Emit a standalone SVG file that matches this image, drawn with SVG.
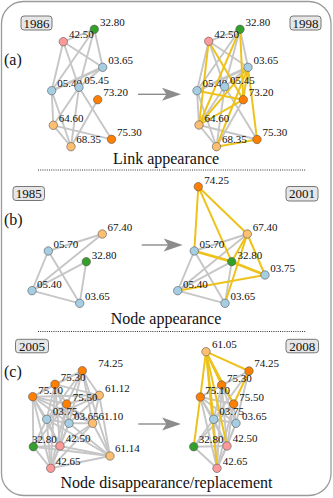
<svg xmlns="http://www.w3.org/2000/svg" width="333" height="498" viewBox="0 0 333 498">
<style>
.frame{fill:#fff;stroke:#9a9a9a;stroke-width:1.3}
.e line{stroke:#c6c6c6;stroke-width:1.9;stroke-linecap:round}
.y line{stroke:#eec21c;stroke-width:2;stroke-linecap:round}
.arr{stroke:#8c8c8c;stroke-width:1.4}
.ah{fill:#8c8c8c}
.sep{stroke:#333;stroke-width:1;stroke-dasharray:1 1.2}
text{font-family:"Liberation Serif","DejaVu Serif",serif;fill:#111}
.lb{font-size:11px}
.ttl{font-size:16px;text-anchor:middle}
.pl{font-size:16px}
.yr rect{fill:#e6e6e6;stroke:#777;stroke-width:1}
.yr text{font-size:13px;text-anchor:middle}
circle{stroke:#555;stroke-width:0.6}
.bl{fill:#a6cee3}.or{fill:#ff7f00}.lo{fill:#fdbf6f}.gr{fill:#33a02c}.pk{fill:#fb9a99}
</style>
<rect class="frame" x="1.5" y="1.5" width="329.5" height="494" rx="22"/>

<!-- separators -->
<line class="sep" x1="38" y1="170" x2="306" y2="170"/>
<line class="sep" x1="38" y1="331.5" x2="306" y2="331.5"/>

<!-- panel labels and titles -->
<text class="pl" x="4" y="65">(a)</text>
<text class="pl" x="4" y="225">(b)</text>
<text class="pl" x="4" y="377">(c)</text>
<text class="ttl" x="166" y="164">Link appearance</text>
<text class="ttl" x="166" y="323.5">Node appearance</text>
<text class="ttl" x="166.5" y="488">Node disappearance/replacement</text>

<g id="year-1986" class="yr"><rect x="21" y="16" width="31" height="14" rx="3"/><text x="36.5" y="27.5">1986</text></g>
<g id="year-1998" class="yr"><rect x="290" y="16" width="31" height="14" rx="3"/><text x="305.5" y="27.5">1998</text></g>
<g id="year-1985" class="yr"><rect x="13" y="186.5" width="31.5" height="14" rx="3"/><text x="28.75" y="198">1985</text></g>
<g id="year-2001" class="yr"><rect x="286" y="186.5" width="32" height="14.5" rx="3"/><text x="302" y="198.2">2001</text></g>
<g id="year-2005" class="yr"><rect x="15.5" y="339.3" width="33" height="13.5" rx="3"/><text x="32" y="350.5">2005</text></g>
<g id="year-2008" class="yr"><rect x="286" y="339.3" width="32.5" height="13.5" rx="3"/><text x="302.25" y="350.5">2008</text></g>

<!-- connectors -->
<g id="connectors">
<g class="e">
<!-- (a) 1986 -->
<line x1="63.3" y1="41.7" x2="94.3" y2="29.3"/>
<line x1="63.3" y1="41.7" x2="51.7" y2="90.7"/>
<line x1="63.3" y1="41.7" x2="79" y2="87.3"/>
<line x1="63.3" y1="41.7" x2="102.7" y2="67.3"/>
<line x1="94.3" y1="29.3" x2="51.7" y2="90.7"/>
<line x1="94.3" y1="29.3" x2="79" y2="87.3"/>
<line x1="94.3" y1="29.3" x2="102.7" y2="67.3"/>
<line x1="102.7" y1="67.3" x2="51.7" y2="90.7" style="stroke-width:2.8"/>
<line x1="102.7" y1="67.3" x2="79" y2="87.3"/>
<line x1="51.7" y1="90.7" x2="53.3" y2="125.3"/>
<line x1="51.7" y1="90.7" x2="71" y2="146.7"/>
<line x1="79" y1="87.3" x2="71" y2="146.7"/>
<line x1="79" y1="87.3" x2="53.3" y2="125.3"/>
<line x1="79" y1="87.3" x2="111.5" y2="139.3"/>
<line x1="97.7" y1="99.7" x2="71" y2="146.7"/>
<line x1="53.3" y1="125.3" x2="71" y2="146.7"/>
<line x1="53.3" y1="125.3" x2="111.5" y2="139.3"/>
<!-- (a) 1998 -->
<line x1="208.7" y1="41.3" x2="240" y2="29.3"/>
<line x1="208.7" y1="41.3" x2="197" y2="90.7"/>
<line x1="208.7" y1="41.3" x2="224.7" y2="86.7"/>
<line x1="208.7" y1="41.3" x2="248" y2="67.3"/>
<line x1="240" y1="29.3" x2="197" y2="90.7"/>
<line x1="240" y1="29.3" x2="224.7" y2="86.7"/>
<line x1="240" y1="29.3" x2="248" y2="67.3"/>
<line x1="248" y1="67.3" x2="197" y2="90.7" style="stroke-width:2.8"/>
<line x1="248" y1="67.3" x2="224.7" y2="86.7"/>
<line x1="197" y1="90.7" x2="199" y2="125"/>
<line x1="197" y1="90.7" x2="216.5" y2="146.7"/>
<line x1="224.7" y1="86.7" x2="216.5" y2="146.7"/>
<line x1="224.7" y1="86.7" x2="199" y2="125"/>
<line x1="224.7" y1="86.7" x2="257" y2="139.5"/>
<line x1="243.3" y1="99.7" x2="216.5" y2="146.7"/>
<line x1="199" y1="125" x2="216.5" y2="146.7"/>
<line x1="199" y1="125" x2="257" y2="139.5"/>
<!-- (b) 1985 -->
<line x1="48.3" y1="251" x2="102.3" y2="234"/>
<line x1="48.3" y1="251" x2="32" y2="290.7"/>
<line x1="48.3" y1="251" x2="79.7" y2="303.3"/>
<line x1="32" y1="290.7" x2="102.3" y2="234"/>
<line x1="32" y1="290.7" x2="86.3" y2="261.7"/>
<line x1="32" y1="290.7" x2="79.7" y2="303.3"/>
<line x1="86.3" y1="261.7" x2="79.7" y2="303.3"/>
<!-- (b) 2001 -->
<line x1="194.3" y1="251" x2="247.3" y2="234"/>
<line x1="194.3" y1="251" x2="177.7" y2="290.7"/>
<line x1="194.3" y1="251" x2="225" y2="303.3"/>
<line x1="177.7" y1="290.7" x2="247.3" y2="234"/>
<line x1="177.7" y1="290.7" x2="231.7" y2="261.7"/>
<line x1="177.7" y1="290.7" x2="225" y2="303.3"/>
<line x1="231.7" y1="261.7" x2="225" y2="303.3"/>
<!-- (c) 2005 -->
<line x1="32.7" y1="396.7" x2="55" y2="384.3"/>
<line x1="32.7" y1="396.7" x2="82.3" y2="370.7"/>
<line x1="32.7" y1="396.7" x2="99.3" y2="395.3"/>
<line x1="32.7" y1="396.7" x2="66.7" y2="404"/>
<line x1="32.7" y1="396.7" x2="46.7" y2="419.3"/>
<line x1="32.7" y1="396.7" x2="69" y2="423.3"/>
<line x1="32.7" y1="396.7" x2="92.7" y2="423.3"/>
<line x1="32.7" y1="396.7" x2="33.3" y2="446.7"/>
<line x1="32.7" y1="396.7" x2="60" y2="446"/>
<line x1="32.7" y1="396.7" x2="50.7" y2="468.3"/>
<line x1="55" y1="384.3" x2="82.3" y2="370.7"/>
<line x1="55" y1="384.3" x2="66.7" y2="404"/>
<line x1="55" y1="384.3" x2="46.7" y2="419.3"/>
<line x1="55" y1="384.3" x2="69" y2="423.3"/>
<line x1="55" y1="384.3" x2="99.3" y2="395.3"/>
<line x1="55" y1="384.3" x2="60" y2="446"/>
<line x1="55" y1="384.3" x2="50.7" y2="468.3"/>
<line x1="82.3" y1="370.7" x2="99.3" y2="395.3"/>
<line x1="82.3" y1="370.7" x2="66.7" y2="404"/>
<line x1="82.3" y1="370.7" x2="46.7" y2="419.3"/>
<line x1="82.3" y1="370.7" x2="69" y2="423.3"/>
<line x1="82.3" y1="370.7" x2="110" y2="456"/>
<line x1="82.3" y1="370.7" x2="92.7" y2="423.3"/>
<line x1="99.3" y1="395.3" x2="66.7" y2="404"/>
<line x1="99.3" y1="395.3" x2="92.7" y2="423.3"/>
<line x1="99.3" y1="395.3" x2="110" y2="456"/>
<line x1="99.3" y1="395.3" x2="46.7" y2="419.3"/>
<line x1="99.3" y1="395.3" x2="69" y2="423.3"/>
<line x1="66.7" y1="404" x2="46.7" y2="419.3"/>
<line x1="66.7" y1="404" x2="69" y2="423.3"/>
<line x1="66.7" y1="404" x2="92.7" y2="423.3"/>
<line x1="66.7" y1="404" x2="60" y2="446"/>
<line x1="66.7" y1="404" x2="50.7" y2="468.3"/>
<line x1="66.7" y1="404" x2="33.3" y2="446.7"/>
<line x1="46.7" y1="419.3" x2="69" y2="423.3"/>
<line x1="46.7" y1="419.3" x2="33.3" y2="446.7"/>
<line x1="46.7" y1="419.3" x2="60" y2="446"/>
<line x1="46.7" y1="419.3" x2="50.7" y2="468.3"/>
<line x1="46.7" y1="419.3" x2="110" y2="456"/>
<line x1="69" y1="423.3" x2="92.7" y2="423.3"/>
<line x1="69" y1="423.3" x2="60" y2="446"/>
<line x1="69" y1="423.3" x2="50.7" y2="468.3"/>
<line x1="69" y1="423.3" x2="110" y2="456"/>
<line x1="92.7" y1="423.3" x2="110" y2="456"/>
<line x1="92.7" y1="423.3" x2="50.7" y2="468.3"/>
<line x1="92.7" y1="423.3" x2="60" y2="446"/>
<line x1="33.3" y1="446.7" x2="60" y2="446"/>
<line x1="33.3" y1="446.7" x2="50.7" y2="468.3"/>
<line x1="33.3" y1="446.7" x2="110" y2="456"/>
<line x1="60" y1="446" x2="50.7" y2="468.3"/>
<line x1="60" y1="446" x2="110" y2="456"/>
<line x1="50.7" y1="468.3" x2="110" y2="456"/>
<!-- (c) 2008 -->
<line x1="200.3" y1="397" x2="221.7" y2="385"/>
<line x1="200.3" y1="397" x2="249" y2="371"/>
<line x1="200.3" y1="397" x2="233.7" y2="404"/>
<line x1="200.3" y1="397" x2="213.7" y2="419.3"/>
<line x1="200.3" y1="397" x2="236" y2="423.3"/>
<line x1="200.3" y1="397" x2="227" y2="446"/>
<line x1="200.3" y1="397" x2="217" y2="468.3"/>
<line x1="221.7" y1="385" x2="249" y2="371"/>
<line x1="221.7" y1="385" x2="233.7" y2="404"/>
<line x1="221.7" y1="385" x2="213.7" y2="419.3"/>
<line x1="221.7" y1="385" x2="236" y2="423.3"/>
<line x1="221.7" y1="385" x2="227" y2="446"/>
<line x1="221.7" y1="385" x2="217" y2="468.3"/>
<line x1="249" y1="371" x2="213.7" y2="419.3"/>
<line x1="249" y1="371" x2="236" y2="423.3"/>
<line x1="233.7" y1="404" x2="213.7" y2="419.3"/>
<line x1="233.7" y1="404" x2="236" y2="423.3"/>
<line x1="233.7" y1="404" x2="227" y2="446"/>
<line x1="233.7" y1="404" x2="217" y2="468.3"/>
<line x1="233.7" y1="404" x2="193.7" y2="446.7"/>
<line x1="213.7" y1="419.3" x2="236" y2="423.3"/>
<line x1="213.7" y1="419.3" x2="193.7" y2="446.7"/>
<line x1="213.7" y1="419.3" x2="227" y2="446"/>
<line x1="213.7" y1="419.3" x2="217" y2="468.3"/>
<line x1="236" y1="423.3" x2="227" y2="446"/>
<line x1="236" y1="423.3" x2="217" y2="468.3"/>
<line x1="193.7" y1="446.7" x2="227" y2="446"/>
<line x1="193.7" y1="446.7" x2="217" y2="468.3"/>
<line x1="227" y1="446" x2="217" y2="468.3"/>
</g>
<g class="y">
<!-- (a) 1998 new links -->
<line x1="208.7" y1="41.3" x2="243.3" y2="99.7"/>
<line x1="208.7" y1="41.3" x2="199" y2="125"/>
<line x1="240" y1="29.3" x2="243.3" y2="99.7"/>
<line x1="240" y1="29.3" x2="199" y2="125"/>
<line x1="248" y1="67.3" x2="257" y2="139.5"/>
<line x1="248" y1="67.3" x2="199" y2="125"/>
<line x1="248" y1="67.3" x2="216.5" y2="146.7"/>
<line x1="248" y1="67.3" x2="243.3" y2="99.7"/>
<line x1="197" y1="90.7" x2="243.3" y2="99.7"/>
<line x1="199" y1="125" x2="243.3" y2="99.7"/>
<line x1="216.5" y1="146.7" x2="257" y2="139.5"/>
<!-- (b) 2001 new links -->
<line x1="198.3" y1="186.7" x2="194.3" y2="251"/>
<line x1="198.3" y1="186.7" x2="231.7" y2="261.7"/>
<line x1="198.3" y1="186.7" x2="247.3" y2="234"/>
<line x1="247.3" y1="234" x2="265" y2="275"/>
<line x1="247.3" y1="234" x2="231.7" y2="261.7"/>
<line x1="247.3" y1="234" x2="225" y2="303.3"/>
<line x1="194.3" y1="251" x2="231.7" y2="261.7" style="stroke-width:2.8"/>
<line x1="231.7" y1="261.7" x2="265" y2="275" style="stroke-width:2.8"/>
<line x1="177.7" y1="290.7" x2="265" y2="275"/>
<!-- (c) 2008 new links -->
<line x1="206" y1="351.7" x2="249" y2="371"/>
<line x1="206" y1="351.7" x2="221.7" y2="385"/>
<line x1="206" y1="351.7" x2="200.3" y2="397"/>
<line x1="206" y1="351.7" x2="233.7" y2="404"/>
<line x1="206" y1="351.7" x2="213.7" y2="419.3"/>
<line x1="206" y1="351.7" x2="227" y2="446"/>
<line x1="206" y1="351.7" x2="217" y2="468.3"/>
<line x1="200.3" y1="397" x2="193.7" y2="446.7"/>
<line x1="249" y1="371" x2="233.7" y2="404"/>
</g>
<!-- arrows -->
<line class="arr" x1="138" y1="94.3" x2="168" y2="94.3"/>
<polygon class="ah" points="181,94.3 162,87.8 166.5,94.3 162,100.8"/>
<line class="arr" x1="141.7" y1="245" x2="169.5" y2="245"/>
<polygon class="ah" points="182.7,245 163.7,238.5 168.2,245 163.7,251.5"/>
<line class="arr" x1="138.3" y1="424" x2="168" y2="424"/>
<polygon class="ah" points="181,424 162,417.5 166.5,424 162,430.5"/>
</g>

<!-- (a) 1986 nodes -->
<g id="a1-3280"><text class="lb" x="100" y="26.3">32.80</text><circle class="gr" cx="94.3" cy="29.3" r="4.2"/></g>
<g id="a1-4250"><text class="lb" x="69" y="38.3">42.50</text><circle class="pk" cx="63.3" cy="41.7" r="4.2"/></g>
<g id="a1-0365"><text class="lb" x="108.2" y="64.3">03.65</text><circle class="bl" cx="102.7" cy="67.3" r="4.2"/></g>
<g id="a1-0540"><text class="lb" x="57.2" y="87.3">05.40</text><circle class="bl" cx="51.7" cy="90.7" r="4.2"/></g>
<g id="a1-0545"><text class="lb" x="84.3" y="84">05.45</text><circle class="bl" cx="79" cy="87.3" r="4.2"/></g>
<g id="a1-7320"><text class="lb" x="103.2" y="96.3">73.20</text><circle class="or" cx="97.7" cy="99.7" r="4.2"/></g>
<g id="a1-6460"><text class="lb" x="58.7" y="122">64.60</text><circle class="lo" cx="53.3" cy="125.3" r="4.2"/></g>
<g id="a1-6835"><text class="lb" x="76.3" y="143.3">68.35</text><circle class="lo" cx="71" cy="146.7" r="4.2"/></g>
<g id="a1-7530"><text class="lb" x="117" y="136">75.30</text><circle class="or" cx="111.5" cy="139.3" r="4.2"/></g>

<!-- (a) 1998 nodes -->
<g id="a2-3280"><text class="lb" x="245.5" y="26.3">32.80</text><circle class="gr" cx="240" cy="29.3" r="4.2"/></g>
<g id="a2-4250"><text class="lb" x="214.3" y="38">42.50</text><circle class="pk" cx="208.7" cy="41.3" r="4.2"/></g>
<g id="a2-0365"><text class="lb" x="253.5" y="64.3">03.65</text><circle class="bl" cx="248" cy="67.3" r="4.2"/></g>
<g id="a2-0540"><text class="lb" x="202.5" y="87.3">05.40</text><circle class="bl" cx="197" cy="90.7" r="4.2"/></g>
<g id="a2-0545"><text class="lb" x="230" y="84">05.45</text><circle class="bl" cx="224.7" cy="86.7" r="4.2"/></g>
<g id="a2-7320"><text class="lb" x="248.8" y="96.3">73.20</text><circle class="or" cx="243.3" cy="99.7" r="4.2"/></g>
<g id="a2-6460"><text class="lb" x="204.5" y="122">64.60</text><circle class="lo" cx="199" cy="125" r="4.2"/></g>
<g id="a2-6835"><text class="lb" x="222" y="143.3">68.35</text><circle class="lo" cx="216.5" cy="146.7" r="4.2"/></g>
<g id="a2-7530"><text class="lb" x="262.5" y="136">75.30</text><circle class="or" cx="257" cy="139.5" r="4.2"/></g>

<!-- (b) 1985 nodes -->
<g id="b1-6740"><text class="lb" x="107.5" y="230.5">67.40</text><circle class="lo" cx="102.3" cy="234" r="4.2"/></g>
<g id="b1-0570"><text class="lb" x="53.5" y="247.5">05.70</text><circle class="bl" cx="48.3" cy="251" r="4.2"/></g>
<g id="b1-3280"><text class="lb" x="91.7" y="258.5">32.80</text><circle class="gr" cx="86.3" cy="261.7" r="4.2"/></g>
<g id="b1-0540"><text class="lb" x="37" y="287.5">05.40</text><circle class="bl" cx="32" cy="290.7" r="4.2"/></g>
<g id="b1-0365"><text class="lb" x="85" y="300.3">03.65</text><circle class="bl" cx="79.7" cy="303.3" r="4.2"/></g>

<!-- (b) 2001 nodes -->
<g id="b2-7425"><text class="lb" x="204.3" y="183.5">74.25</text><circle class="or" cx="198.3" cy="186.7" r="4.2"/></g>
<g id="b2-6740"><text class="lb" x="252.7" y="230.5">67.40</text><circle class="lo" cx="247.3" cy="234" r="4.2"/></g>
<g id="b2-0570"><text class="lb" x="199.5" y="247.5">05.70</text><circle class="bl" cx="194.3" cy="251" r="4.2"/></g>
<g id="b2-3280"><text class="lb" x="237.5" y="258.5">32.80</text><circle class="gr" cx="231.7" cy="261.7" r="4.2"/></g>
<g id="b2-0375"><text class="lb" x="270.3" y="272">03.75</text><circle class="bl" cx="265" cy="275" r="4.2"/></g>
<g id="b2-0540"><text class="lb" x="183" y="287.5">05.40</text><circle class="bl" cx="177.7" cy="290.7" r="4.2"/></g>
<g id="b2-0365"><text class="lb" x="230.5" y="300.3">03.65</text><circle class="bl" cx="225" cy="303.3" r="4.2"/></g>

<!-- (c) 2005 nodes -->
<g id="c1-7425"><text class="lb" x="98.3" y="367">74.25</text><circle class="or" cx="82.3" cy="370.7" r="4.2"/></g>
<g id="c1-7530"><text class="lb" x="60.7" y="381.2">75.30</text><circle class="or" cx="55" cy="384.3" r="4.2"/></g>
<g id="c1-7510"><text class="lb" x="38.3" y="394">75.10</text><circle class="or" cx="32.7" cy="396.7" r="4.2"/></g>
<g id="c1-6112"><text class="lb" x="105" y="392">61.12</text><circle class="lo" cx="99.3" cy="395.3" r="4.2"/></g>
<g id="c1-7550"><text class="lb" x="72.7" y="400.5">75.50</text><circle class="or" cx="66.7" cy="404" r="4.2"/></g>
<g id="c1-0375"><text class="lb" x="52.7" y="414.8">03.75</text><circle class="bl" cx="46.7" cy="419.3" r="4.2"/></g>
<g id="c1-0365"><text class="lb" x="74" y="419.5">03.65</text><circle class="bl" cx="69" cy="423.3" r="4.2"/></g>
<g id="c1-6110"><text class="lb" x="98.5" y="419.5">61.10</text><circle class="lo" cx="92.7" cy="423.3" r="4.2"/></g>
<g id="c1-3280"><text class="lb" x="32" y="443.3">32.80</text><circle class="gr" cx="33.3" cy="446.7" r="4.2"/></g>
<g id="c1-4250"><text class="lb" x="65.7" y="442">42.50</text><circle class="pk" cx="60" cy="446" r="4.2"/></g>
<g id="c1-6114"><text class="lb" x="115" y="452">61.14</text><circle class="lo" cx="110" cy="456" r="4.2"/></g>
<g id="c1-4265"><text class="lb" x="55.7" y="465.3">42.65</text><circle class="pk" cx="50.7" cy="468.3" r="4.2"/></g>

<!-- (c) 2008 nodes -->
<g id="c2-6105"><text class="lb" x="212" y="348">61.05</text><circle class="lo" cx="206" cy="351.7" r="4.2"/></g>
<g id="c2-7425"><text class="lb" x="254.3" y="367">74.25</text><circle class="or" cx="249" cy="371" r="4.2"/></g>
<g id="c2-7530"><text class="lb" x="227" y="381.5">75.30</text><circle class="or" cx="221.7" cy="385" r="4.2"/></g>
<g id="c2-7510"><text class="lb" x="205.3" y="394">75.10</text><circle class="or" cx="200.3" cy="397" r="4.2"/></g>
<g id="c2-7550"><text class="lb" x="239.3" y="400.5">75.50</text><circle class="or" cx="233.7" cy="404" r="4.2"/></g>
<g id="c2-0375"><text class="lb" x="219.3" y="415">03.75</text><circle class="bl" cx="213.7" cy="419.3" r="4.2"/></g>
<g id="c2-0365"><text class="lb" x="242" y="419.5">03.65</text><circle class="bl" cx="236" cy="423.3" r="4.2"/></g>
<g id="c2-3280"><text class="lb" x="198.7" y="443">32.80</text><circle class="gr" cx="193.7" cy="446.7" r="4.2"/></g>
<g id="c2-4250"><text class="lb" x="232.7" y="442">42.50</text><circle class="pk" cx="227" cy="446" r="4.2"/></g>
<g id="c2-4265"><text class="lb" x="222.7" y="465.3">42.65</text><circle class="pk" cx="217" cy="468.3" r="4.2"/></g>
</svg>
